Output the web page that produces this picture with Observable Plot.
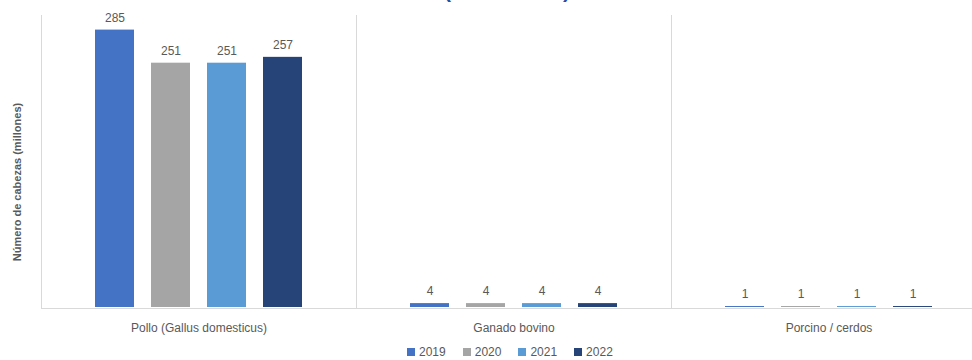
<!DOCTYPE html>
<html>
<head>
<meta charset="utf-8">
<script src="https://cdn.jsdelivr.net/npm/d3@7"></script>
<script src="https://cdn.jsdelivr.net/npm/@observablehq/plot@0.6"></script>
<style>
  html, body { margin: 0; padding: 0; background: #fff; }
  body { position: relative; width: 972px; height: 360px; overflow: hidden; font-family: "Liberation Sans", Arial, sans-serif; }
  #title { position: absolute; left: 0; top: -20px; width: 1014px; text-align: center; font-size: 21px; line-height: 21px; font-weight: bold; color: #1f4fa8; white-space: nowrap; }
  #chart { position: absolute; left: 0; top: 0; width: 990px; }
  #chart svg { max-width: none !important; }
  #ylabel { position: absolute; left: 17px; top: 182px; transform: translate(-50%, -50%) rotate(-90deg); white-space: nowrap; font-size: 11px; font-weight: bold; color: #595959; }
  #legend { position: absolute; left: 407px; top: 345px; display: flex; font-size: 12px; color: #595959; line-height: 14px; }
  #legend .item { display: flex; align-items: center; margin-right: 17px; }
  #legend .sw { width: 8px; height: 8px; margin-right: 4px; }
</style>
</head>
<body>
<div id="title">(2019 - 2022)</div>
<div id="chart"></div>
<div id="ylabel">Número de cabezas (millones)</div>
<div id="legend"></div>
<script>
const categories = ["Pollo (Gallus domesticus)", "Ganado bovino", "Porcino / cerdos"];
const years = ["2019", "2020", "2021", "2022"];
const pollo = [285, 251, 251, 257];
const bovino = [4, 4, 4, 4];
const porcino = [1, 1, 1, 1];
const colors = ["#4472C4", "#A5A5A5", "#5B9BD5", "#264478"];

const series = [pollo, bovino, porcino];
const data = categories.flatMap((c, i) => years.map((y, j) => ({cat: c, year: y, value: series[i][j]})));

const chart = Plot.plot({
  width: 986,
  height: 340,
  marginLeft: 41,
  marginRight: 0,
  marginTop: 15,
  marginBottom: 33,
  fx: {domain: categories, padding: 0, label: null, axis: null},
  x: {domain: years, axis: null, paddingInner: 0.31, paddingOuter: 0.96},
  y: {domain: [0, 300], axis: null},
  color: {domain: years, range: colors},
  style: {fontFamily: "Liberation Sans, Arial, sans-serif", fontSize: "12px", color: "#595959", maxWidth: "none"},
  marks: [
    Plot.frame({anchor: "left", stroke: "#d9d9d9"}),
    Plot.ruleY([0], {stroke: "#d9d9d9", dy: 1}),
    Plot.barY(data, {fx: "cat", x: "year", y: "value", fill: "year"}),
    Plot.text(data, {fx: "cat", x: "year", y: "value", text: d => String(d.value), dy: -12, fill: "#595959", fontSize: 12}),
    Plot.axisFx({anchor: "bottom", tickSize: 0, tickPadding: 16, label: null, color: "#595959", fontSize: 12})
  ]
});
document.getElementById("chart").appendChild(chart);

const legend = document.getElementById("legend");
years.forEach((y, i) => {
  const item = document.createElement("div");
  item.className = "item";
  const sw = document.createElement("span");
  sw.className = "sw";
  sw.style.background = colors[i];
  const t = document.createElement("span");
  t.textContent = y;
  item.appendChild(sw);
  item.appendChild(t);
  legend.appendChild(item);
});
</script>
</body>
</html>
